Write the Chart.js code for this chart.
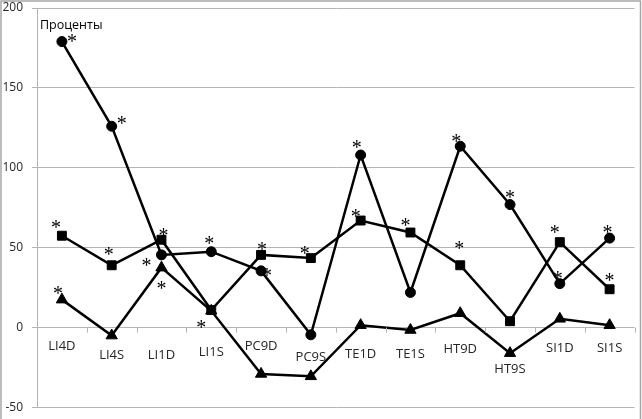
<!DOCTYPE html>
<html>
<head>
<meta charset="utf-8">
<script src="https://cdn.jsdelivr.net/npm/chart.js@4.4.1/dist/chart.umd.min.js"></script>
<style>
    html, body { margin: 0; padding: 0; background: #fff; }
    #wrap { width: 642px; height: 419px; position: relative; }
</style>
</head>
<body>
<div id="wrap"><canvas id="chart" width="642" height="419"></canvas></div>
<script>
const categories = ['LI4D', 'LI4S', 'LI1D', 'LI1S', 'PC9D', 'PC9S', 'TE1D', 'TE1S', 'HT9D', 'HT9S', 'SI1D', 'SI1S'];
const circleValues = [179, 126, 45.5, 47.5, 35.5, -4.5, 108, 22, 113.5, 77, 27.5, 56];
const squareValues = [57.5, 39, 55, 11, 45.5, 43.5, 67, 59.5, 39, 4, 53.5, 24];
const triangleValues = [17.5, -5, 37.5, 10.5, -29, -30.5, 1.5, -1.5, 9, -16, 5.5, 1.5];
const yTicks = [-50, 0, 50, 100, 150, 200];
const yTitle = 'Проценты';

// asterisk offsets [dx, dy] from the point, null = no mark
const circleStars = [[10, -4], [10, -6], [-15, 7], [-2, -12], [6, 1], null, [-4, -11], null, [-4, -8], [0, -11], [-2, -9], [-2, -9]];
const squareStars = [[-6, -12], [-3, -14], [2, -8], [-10, 14], [1, -9], [-6, -8], [-5, -8], [-5, -11], [-1, -20], null, [-5, -13], [0, -12]];
const triangleStars = [[-4, -10], null, [0, 17], null, null, null, null, null, null, null, null, null];

// vertical shift of each category label below the zero line
const labelDy = [19, 28, 28, 25, 19, 30, 27, 27, 22, 42, 21, 21];

const gridColor = '#b4b4b4';

const overlayPlugin = {
    id: 'overlay',
    beforeDraw(chart) {
        const ctx = chart.ctx;
        ctx.save();
        ctx.fillStyle = '#fff';
        ctx.fillRect(0, 0, chart.width, chart.height);
        ctx.strokeStyle = '#a6a6a6';
        ctx.lineWidth = 1.5;
        ctx.strokeRect(1, 1, chart.width - 2.5, chart.height + 4);
        ctx.restore();
    },
    afterDatasetsDraw(chart) {
        const ctx = chart.ctx;
        const x = chart.scales.x;
        const y = chart.scales.y;
        const zero = y.getPixelForValue(0);
        ctx.save();

        // x axis tick marks on the zero line, between categories
        ctx.strokeStyle = gridColor;
        ctx.lineWidth = 1;
        ctx.beginPath();
        for (let i = 0; i <= categories.length; i++) {
            const px = Math.round(x.getPixelForValue(i - 0.5)) + 0.5;
            ctx.moveTo(px, zero);
            ctx.lineTo(px, zero + 5);
        }
        ctx.stroke();

        // category labels
        ctx.fillStyle = '#262626';
        ctx.font = '13px "Open Sans", sans-serif';
        ctx.textAlign = 'center';
        ctx.textBaseline = 'middle';
        categories.forEach((c, i) => {
            ctx.fillText(c, x.getPixelForValue(i), zero + labelDy[i]);
        });

        // asterisks
        ctx.fillStyle = '#000';
        ctx.font = '20px "Liberation Serif", serif';
        ctx.textBaseline = 'alphabetic';
        [circleStars, squareStars, triangleStars].forEach((stars, di) => {
            const meta = chart.getDatasetMeta(di);
            stars.forEach((s, i) => {
                if (!s) return;
                const p = meta.data[i];
                ctx.fillText('*', p.x + s[0], p.y + s[1] + 10);
            });
        });

        // title inside the plot
        ctx.fillStyle = '#000';
        ctx.font = '12.5px "Open Sans", sans-serif';
        ctx.textAlign = 'left';
        ctx.textBaseline = 'middle';
        ctx.fillText(yTitle, x.left + 3, y.getPixelForValue(189));
        ctx.restore();
    }
};

function lineSet(data, style, radius) {
    return {
        data: data,
        borderColor: '#000',
        backgroundColor: '#000',
        borderWidth: 2.5,
        pointStyle: style,
        pointRadius: radius,
        pointBorderWidth: 1,
        pointBorderColor: '#000',
        pointBackgroundColor: '#000',
        tension: 0,
        fill: false
    };
}

new Chart(document.getElementById('chart'), {
    type: 'line',
    data: {
        labels: categories,
        datasets: [
            lineSet(circleValues, 'circle', 5),
            lineSet(squareValues, 'rect', 6.3),
            lineSet(triangleValues, 'triangle', 6.5)
        ]
    },
    options: {
        responsive: false,
        animation: false,
        layout: { padding: { left: 0, right: 4, top: 8, bottom: 11.5 } },
        plugins: {
            legend: { display: false },
            tooltip: { enabled: false }
        },
        scales: {
            x: {
                display: false,
                offset: true
            },
            y: {
                min: -50,
                max: 200,
                afterBuildTicks: scale => {
                    scale.ticks = yTicks.map(v => ({ value: v }));
                },
                afterFit: scale => {
                    scale.width = 37;
                    scale.paddingTop = 0;
                    scale.paddingBottom = 0;
                },
                border: { color: gridColor, width: 1 },
                grid: { color: gridColor, tickLength: 5, lineWidth: 1 },
                ticks: {
                    padding: 9,
                    color: '#262626',
                    font: { family: '"Open Sans", sans-serif', size: 12 }
                }
            }
        }
    },
    plugins: [overlayPlugin]
});
</script>
</body>
</html>
